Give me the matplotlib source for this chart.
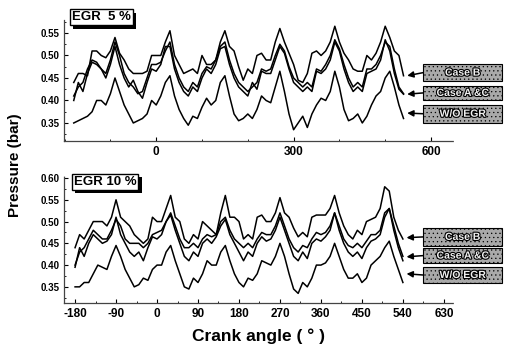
import numpy as np
import matplotlib
matplotlib.use("Agg")
import matplotlib.pyplot as plt
import matplotlib.patheffects as pe
from matplotlib.patches import Rectangle
from matplotlib.ticker import MultipleLocator

plt.rcParams["font.family"] = ["Liberation Sans", "DejaVu Sans"]
plt.rcParams["font.weight"] = "bold"

# crank angle grid (deg)
angle = list(range(-180, 541, 10))

# EGR 5 %
egr5_case_b = [
    0.44, 0.46, 0.46, 0.455, 0.51, 0.51, 0.50, 0.495, 0.51, 0.54,
    0.505, 0.49, 0.47, 0.46, 0.46, 0.46, 0.465, 0.50, 0.50, 0.50,
    0.53, 0.555, 0.50, 0.48, 0.46, 0.465, 0.47, 0.46, 0.50, 0.48,
    0.48, 0.49, 0.53, 0.555, 0.52, 0.51, 0.475, 0.445, 0.47, 0.46,
    0.50, 0.505, 0.49, 0.49, 0.53, 0.56, 0.53, 0.505, 0.48, 0.445,
    0.44, 0.46, 0.505, 0.51, 0.50, 0.51, 0.53, 0.565, 0.53, 0.505,
    0.49, 0.47, 0.465, 0.465, 0.50, 0.49, 0.505, 0.53, 0.565, 0.54,
    0.51, 0.50, 0.455,
]
egr5_case_a = [
    0.40, 0.44, 0.42, 0.46, 0.485, 0.48, 0.47, 0.45, 0.48, 0.52,
    0.48, 0.45, 0.43, 0.445, 0.42, 0.405, 0.44, 0.47, 0.465, 0.48,
    0.52, 0.52, 0.47, 0.44, 0.42, 0.41, 0.43, 0.42, 0.45, 0.47,
    0.46, 0.48, 0.515, 0.52, 0.48, 0.45, 0.43, 0.42, 0.41, 0.44,
    0.425, 0.465, 0.46, 0.46, 0.49, 0.52, 0.505, 0.47, 0.44, 0.43,
    0.42, 0.43, 0.42, 0.465, 0.46, 0.47, 0.49, 0.53, 0.51, 0.47,
    0.44, 0.42, 0.43, 0.42, 0.46, 0.465, 0.47, 0.49, 0.535, 0.51,
    0.46, 0.425, 0.414,
]
egr5_case_c = [
    0.41, 0.43, 0.44, 0.47, 0.49, 0.485, 0.47, 0.46, 0.49, 0.53,
    0.50, 0.46, 0.44, 0.43, 0.415, 0.42, 0.45, 0.48, 0.48, 0.485,
    0.51, 0.53, 0.48, 0.45, 0.43, 0.42, 0.44, 0.43, 0.46, 0.475,
    0.47, 0.49, 0.52, 0.53, 0.49, 0.46, 0.44, 0.43, 0.42, 0.43,
    0.44, 0.47, 0.465, 0.47, 0.50, 0.525, 0.51, 0.475, 0.45, 0.44,
    0.43, 0.44, 0.43, 0.47, 0.465, 0.48, 0.50, 0.535, 0.515, 0.48,
    0.45, 0.43, 0.44, 0.43, 0.47, 0.47, 0.48, 0.50, 0.53, 0.52,
    0.47, 0.43, 0.415,
]
egr5_wo = [
    0.35, 0.355, 0.36, 0.365, 0.375, 0.40, 0.40, 0.39, 0.415, 0.45,
    0.42, 0.39, 0.37, 0.35, 0.355, 0.36, 0.37, 0.40, 0.39, 0.41,
    0.44, 0.455, 0.41, 0.38, 0.36, 0.345, 0.365, 0.36, 0.385, 0.405,
    0.39, 0.40, 0.44, 0.455, 0.41, 0.37, 0.355, 0.36, 0.37, 0.36,
    0.38, 0.41, 0.40, 0.395, 0.43, 0.465, 0.42, 0.37, 0.335, 0.35,
    0.365, 0.34, 0.37, 0.39, 0.405, 0.40, 0.42, 0.465, 0.43, 0.38,
    0.355, 0.36, 0.37, 0.35, 0.365, 0.39, 0.41, 0.42, 0.45, 0.465,
    0.43, 0.39, 0.36,
]

# EGR 10 %
egr10_case_b = [
    0.44, 0.47, 0.46, 0.48, 0.50, 0.50, 0.50, 0.49, 0.51, 0.55,
    0.51, 0.50, 0.49, 0.47, 0.46, 0.45, 0.46, 0.51, 0.50, 0.50,
    0.53, 0.56, 0.51, 0.50, 0.46, 0.45, 0.47, 0.46, 0.50, 0.49,
    0.48, 0.47, 0.52, 0.56, 0.51, 0.51, 0.50, 0.46, 0.47, 0.46,
    0.51, 0.515, 0.50, 0.50, 0.52, 0.555, 0.52, 0.51, 0.485, 0.465,
    0.475, 0.465, 0.51, 0.515, 0.515, 0.515, 0.53, 0.56, 0.52, 0.49,
    0.47, 0.46, 0.48, 0.47, 0.50, 0.505, 0.51, 0.53, 0.58, 0.57,
    0.51, 0.48, 0.46,
]
egr10_case_a = [
    0.395, 0.44, 0.42, 0.45, 0.47, 0.46, 0.45, 0.455, 0.47, 0.51,
    0.47, 0.45, 0.43, 0.42, 0.43, 0.41, 0.44, 0.465, 0.46, 0.47,
    0.50, 0.515, 0.48, 0.45, 0.42, 0.41, 0.43, 0.42, 0.45, 0.46,
    0.45, 0.465, 0.49, 0.505, 0.47, 0.45, 0.43, 0.41, 0.43, 0.42,
    0.45, 0.465, 0.455, 0.46, 0.48, 0.51, 0.48, 0.45, 0.42, 0.41,
    0.43, 0.415, 0.45, 0.46, 0.455, 0.465, 0.48, 0.52, 0.48, 0.45,
    0.43, 0.42, 0.43, 0.415, 0.44, 0.455, 0.46, 0.47, 0.51, 0.53,
    0.48, 0.44, 0.41,
]
egr10_case_c = [
    0.40, 0.43, 0.44, 0.46, 0.48, 0.47, 0.46, 0.46, 0.48, 0.505,
    0.49, 0.46, 0.45, 0.45, 0.45, 0.44, 0.45, 0.47, 0.475, 0.48,
    0.50, 0.52, 0.49, 0.46, 0.44, 0.44, 0.45, 0.44, 0.46, 0.47,
    0.465, 0.47, 0.50, 0.51, 0.48, 0.46, 0.45, 0.44, 0.45, 0.44,
    0.46, 0.475, 0.47, 0.47, 0.49, 0.52, 0.49, 0.46, 0.44, 0.43,
    0.445, 0.44, 0.46, 0.475, 0.47, 0.475, 0.49, 0.52, 0.49, 0.46,
    0.445, 0.44, 0.45, 0.44, 0.455, 0.47, 0.47, 0.48, 0.52, 0.53,
    0.49, 0.45, 0.42,
]
egr10_wo = [
    0.35, 0.35, 0.36, 0.36, 0.38, 0.40, 0.395, 0.39, 0.42, 0.445,
    0.42, 0.39, 0.37, 0.35, 0.355, 0.37, 0.365, 0.39, 0.40, 0.40,
    0.43, 0.445, 0.41, 0.38, 0.35, 0.345, 0.37, 0.36, 0.38, 0.41,
    0.40, 0.40, 0.43, 0.445, 0.41, 0.38, 0.36, 0.35, 0.37, 0.365,
    0.38, 0.41, 0.405, 0.40, 0.42, 0.45, 0.42, 0.38, 0.345, 0.335,
    0.36, 0.35, 0.37, 0.40, 0.40, 0.405, 0.42, 0.45, 0.42, 0.39,
    0.37, 0.37, 0.38, 0.36, 0.37, 0.40, 0.41, 0.42, 0.44, 0.455,
    0.42, 0.39, 0.36,
]

legend_labels = ["Case B", "Case A &C", "W/O EGR"]
egr5_arrow_y = [0.455, 0.414, 0.372]
egr10_arrow_y = [0.463, 0.419, 0.380]


def style_axes(ax, yticks, xticks):
    for side in ["top", "right"]:
        ax.spines[side].set_visible(False)
    for side in ["left", "bottom"]:
        ax.spines[side].set_linestyle((0, (1, 1)))
        ax.spines[side].set_color("#444444")
        ax.spines[side].set_linewidth(0.9)
    ax.set_yticks(yticks)
    ax.set_yticklabels([f"{v:.2f}" for v in yticks], fontsize=7, fontweight="bold")
    ax.set_xticks(xticks)
    ax.set_xticklabels([str(v) for v in xticks], fontsize=8.5, fontweight="bold")
    ax.yaxis.set_minor_locator(MultipleLocator(0.025))
    ax.tick_params(axis="both", which="major", length=3, width=0.8, direction="in")
    ax.tick_params(axis="both", which="minor", length=1.5, width=0.6, direction="in")


def draw_panel(ax, series, arrow_y, legend_y, box_y_h):
    for s in series:
        ax.plot(angle, s, color="black", linewidth=1.1)
    fig = ax.figure
    for lab, ay, (by, bh) in zip(legend_labels, arrow_y, box_y_h):
        rect = Rectangle((0.838, by), 0.156, bh, transform=fig.transFigure,
                         facecolor="#a9a9a9", edgecolor="black", linewidth=0.8,
                         hatch="....", clip_on=False)
        fig.add_artist(rect)
        t = fig.text(0.916, by + bh / 2, lab, ha="center", va="center",
                     fontsize=7.5, fontweight="bold", color="#f0f0f0")
        t.set_path_effects([pe.withStroke(linewidth=1.6, foreground="black")])
        ax.annotate("", xy=(548, ay), xycoords="data",
                    xytext=(0.838, by + bh / 2), textcoords="figure fraction",
                    arrowprops=dict(arrowstyle="-|>", color="black", lw=1.1,
                                    mutation_scale=9, shrinkA=0, shrinkB=0),
                    annotation_clip=False)


def tag(fig, x, y, text):
    t = fig.text(x, y, text, ha="left", va="center", fontsize=9.5,
                 fontweight="bold",
                 bbox=dict(boxstyle="square,pad=0.15", facecolor="white",
                           edgecolor="black", linewidth=1.0))
    t.get_bbox_patch().set_path_effects([
        pe.SimplePatchShadow(offset=(2.5, -2.5), shadow_rgbFace="black", alpha=1.0),
        pe.Normal(),
    ])


def main():
    fig = plt.figure(figsize=(5.05, 3.56), dpi=100)
    plt.rcParams["hatch.color"] = "#7a7a7a"
    plt.rcParams["hatch.linewidth"] = 0.4

    ax1 = fig.add_axes([0.127, 0.604, 0.770, 0.340])
    ax2 = fig.add_axes([0.127, 0.149, 0.770, 0.357])

    ax1.set_xlim(-201, 648)
    ax1.set_ylim(0.31, 0.579)
    ax2.set_xlim(-204, 650)
    ax2.set_ylim(0.313, 0.605)

    style_axes(ax1, [0.35, 0.40, 0.45, 0.50, 0.55], [0, 300, 600])
    ax1.xaxis.set_minor_locator(MultipleLocator(100))
    style_axes(ax2, [0.35, 0.40, 0.45, 0.50, 0.55, 0.60],
               [-180, -90, 0, 90, 180, 270, 360, 450, 540, 630])
    ax2.xaxis.set_minor_locator(MultipleLocator(45))

    draw_panel(ax1, [egr5_case_b, egr5_case_a, egr5_case_c, egr5_wo],
               egr5_arrow_y, None,
               [(0.772, 0.048), (0.719, 0.040), (0.655, 0.051)])
    draw_panel(ax2, [egr10_case_b, egr10_case_a, egr10_case_c, egr10_wo],
               egr10_arrow_y, None,
               [(0.309, 0.051), (0.261, 0.042), (0.205, 0.045)])

    tag(fig, 0.142, 0.951, "EGR  5 %")
    tag(fig, 0.146, 0.490, "EGR 10 %")

    fig.text(0.03, 0.536, "Pressure (bar)", rotation=90, ha="center", va="center",
             fontsize=11, fontweight="bold")
    fig.text(0.512, 0.055, "Crank angle ( ° )", ha="center", va="center",
             fontsize=12.5, fontweight="bold")

    fig.savefig("out.png", dpi=100)
    plt.close(fig)


if __name__ == "__main__":
    main()
